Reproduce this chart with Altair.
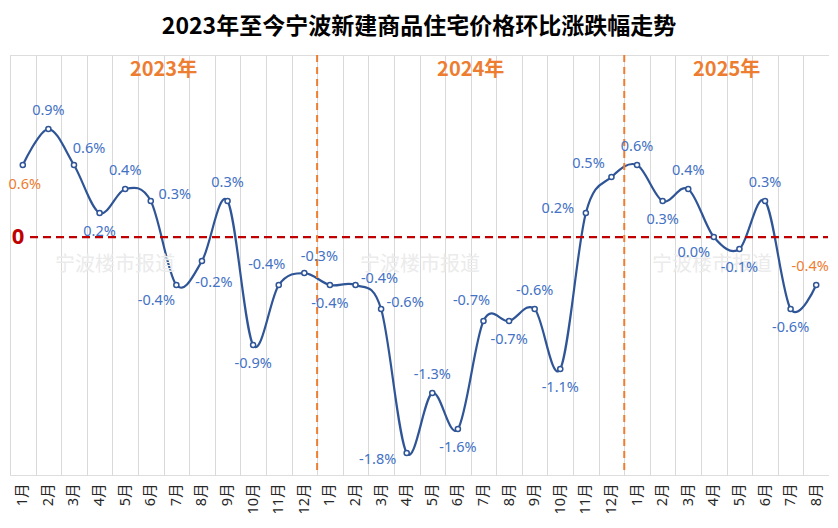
import altair as alt
import pandas as pd

# ---- data ----
years = ["2023年", "2024年", "2025年"]
months_per_year = [12, 12, 8]
values = [
    0.6, 0.9, 0.6, 0.2, 0.4, 0.3, -0.4, -0.2, 0.3, -0.9, -0.4, -0.3,
    -0.4, -0.4, -0.6, -1.8, -1.3, -1.6, -0.7, -0.7, -0.6, -1.1, 0.2, 0.5,
    0.6, 0.3, 0.4, 0.0, -0.1, 0.3, -0.6, -0.4,
]
# label placement style codes (a=above, b=below, r=right, l=left ...)
label_side = [
    "bs", "a", "ar", "b", "a", "r", "bl", "br", "a", "b", "al", "ar",
    "b", "r", "r", "ll", "a", "b", "al", "b", "a", "b", "l", "ul",
    "a", "b", "a", "bl", "b", "a", "b", "ae",
]
title_text = "2023年至今宁波新建商品住宅价格环比涨跌幅走势"
watermark = "宁波楼市报道"

side_offsets = {
    "a": (0, -18), "b": (0, 19), "bs": (2, 20), "ar": (15, -16), "r": (24, -6),
    "br": (12, 22), "bl": (-20, 16), "al": (-12, -20), "l": (-28, -4),
    "ll": (-29, 7), "ul": (-23, -13), "ae": (-6, -18),
}

keys = []
for y, n in zip(years, months_per_year):
    for m in range(1, n + 1):
        keys.append(f"{y}{m}月")

df = pd.DataFrame({"key": keys, "v": values, "side": label_side, "i": list(range(len(keys)))})

# year separators and year label anchors
starts = []
s = 0
for n in months_per_year:
    starts.append(s)
    s += n
sep_df = pd.DataFrame({"key": [keys[st] for st in starts[1:]]})
year_df = pd.DataFrame({
    "key": [keys[st + n // 2] for st, n in zip(starts, months_per_year)],
    "year": years,
})

FONT = "Noto Sans, Noto Sans CJK SC, sans-serif"
CJK = "Noto Sans CJK SC, sans-serif"
BLUE_LINE = "#2F5597"
BLUE_TXT = "#4472C4"
ORANGE = "#ED7D31"

xscale = alt.Scale(type="band", paddingInner=0, paddingOuter=0)
yscale = alt.Scale(domain=[-1.983, 1.517], nice=False, zero=False)
xaxis = alt.Axis(
    labelExpr="split(datum.value, '年')[1]",
    labelAngle=-90, labelFontSize=14.5, labelColor="#262626", labelFont=FONT,
    labelPadding=8, ticks=False, domain=False, grid=True,
    gridColor="#D9D9D9", gridWidth=1, tickBand="extent", title=None,
)


def X(**kw):
    return alt.X("key:O", sort=keys, scale=xscale, axis=xaxis, title=None, **kw)


Y = alt.Y("v:Q", scale=yscale, axis=None)

base = alt.Chart(df)

line = base.mark_line(interpolate="cardinal", color=BLUE_LINE, strokeWidth=2.2).encode(x=X(), y=Y)

# watermark texts
wm = alt.Chart(pd.DataFrame({"t": [watermark] * 3, "k": [0, 1, 2]})).mark_text(
    fontSize=20, font=CJK, color="#EBEBEB"
)
wm_layers = [
    wm.transform_filter(f"datum.k == {k}").encode(
        x=alt.value(px), y=alt.value(210), text="t:N"
    )
    for k, px in enumerate([105, 410, 702])
]

zero_rule = alt.Chart(pd.DataFrame({"v": [0]})).mark_rule(
    color="#C00000", strokeDash=[8, 5], strokeWidth=2.2
).encode(y=Y, x=alt.value(20), x2=alt.value(818))

zero_text = alt.Chart(pd.DataFrame({"v": [0], "t": ["0"]})).mark_text(
    fontSize=22, fontWeight="bold", color="#C00000", font=FONT, align="center", baseline="middle"
).encode(y=Y, x=alt.value(8), text="t:N")

sep_rules = alt.Chart(sep_df).mark_rule(
    color=ORANGE, strokeDash=[7, 5], strokeWidth=2
).encode(x=X(bandPosition=0))

year_text = alt.Chart(year_df).mark_text(
    fontSize=20, fontWeight="bold", color=ORANGE, font=CJK, baseline="middle"
).encode(x=X(bandPosition=0), y=alt.value(15), text="year:N")

points = base.mark_point(
    shape="circle", filled=True, fill="white", stroke=BLUE_LINE, strokeWidth=1.5, size=26, opacity=1
).encode(x=X(), y=Y)

label_layers = []
for code, (dx, dy) in side_offsets.items():
    label_layers.append(
        base.transform_filter(f"datum.side == '{code}'")
        .transform_calculate(
            lab="(datum.v < 0 ? '-' : '') + format(abs(datum.v), '.1f') + '%'"
        )
        .mark_text(dx=dx, dy=dy, fontSize=14.5, font=FONT, baseline="middle", align="center")
        .encode(
            x=X(), y=Y, text="lab:N",
            color=alt.condition(
                f"datum.i == 0 || datum.i == {len(keys) - 1}", alt.value(ORANGE), alt.value(BLUE_TXT)
            ),
        )
    )

title = alt.Chart(pd.DataFrame({"t": [title_text]})).mark_text(
    fontSize=23, fontWeight="bold", font=CJK, color="#000000", baseline="middle", align="center"
).encode(x=alt.value(409), y=alt.value(-28), text="t:N")

chart = alt.layer(
    line, *wm_layers, zero_rule, zero_text, sep_rules, year_text, points, *label_layers, title
).properties(
    width=819, height=420,
    autosize=alt.AutoSizeParams(type="none"),
    padding={"left": 2, "top": 47, "right": 0, "bottom": 44},
).configure_view(stroke="transparent").configure(background="white")

chart.save("out.html", embed_options={"renderer": "svg", "actions": False})
